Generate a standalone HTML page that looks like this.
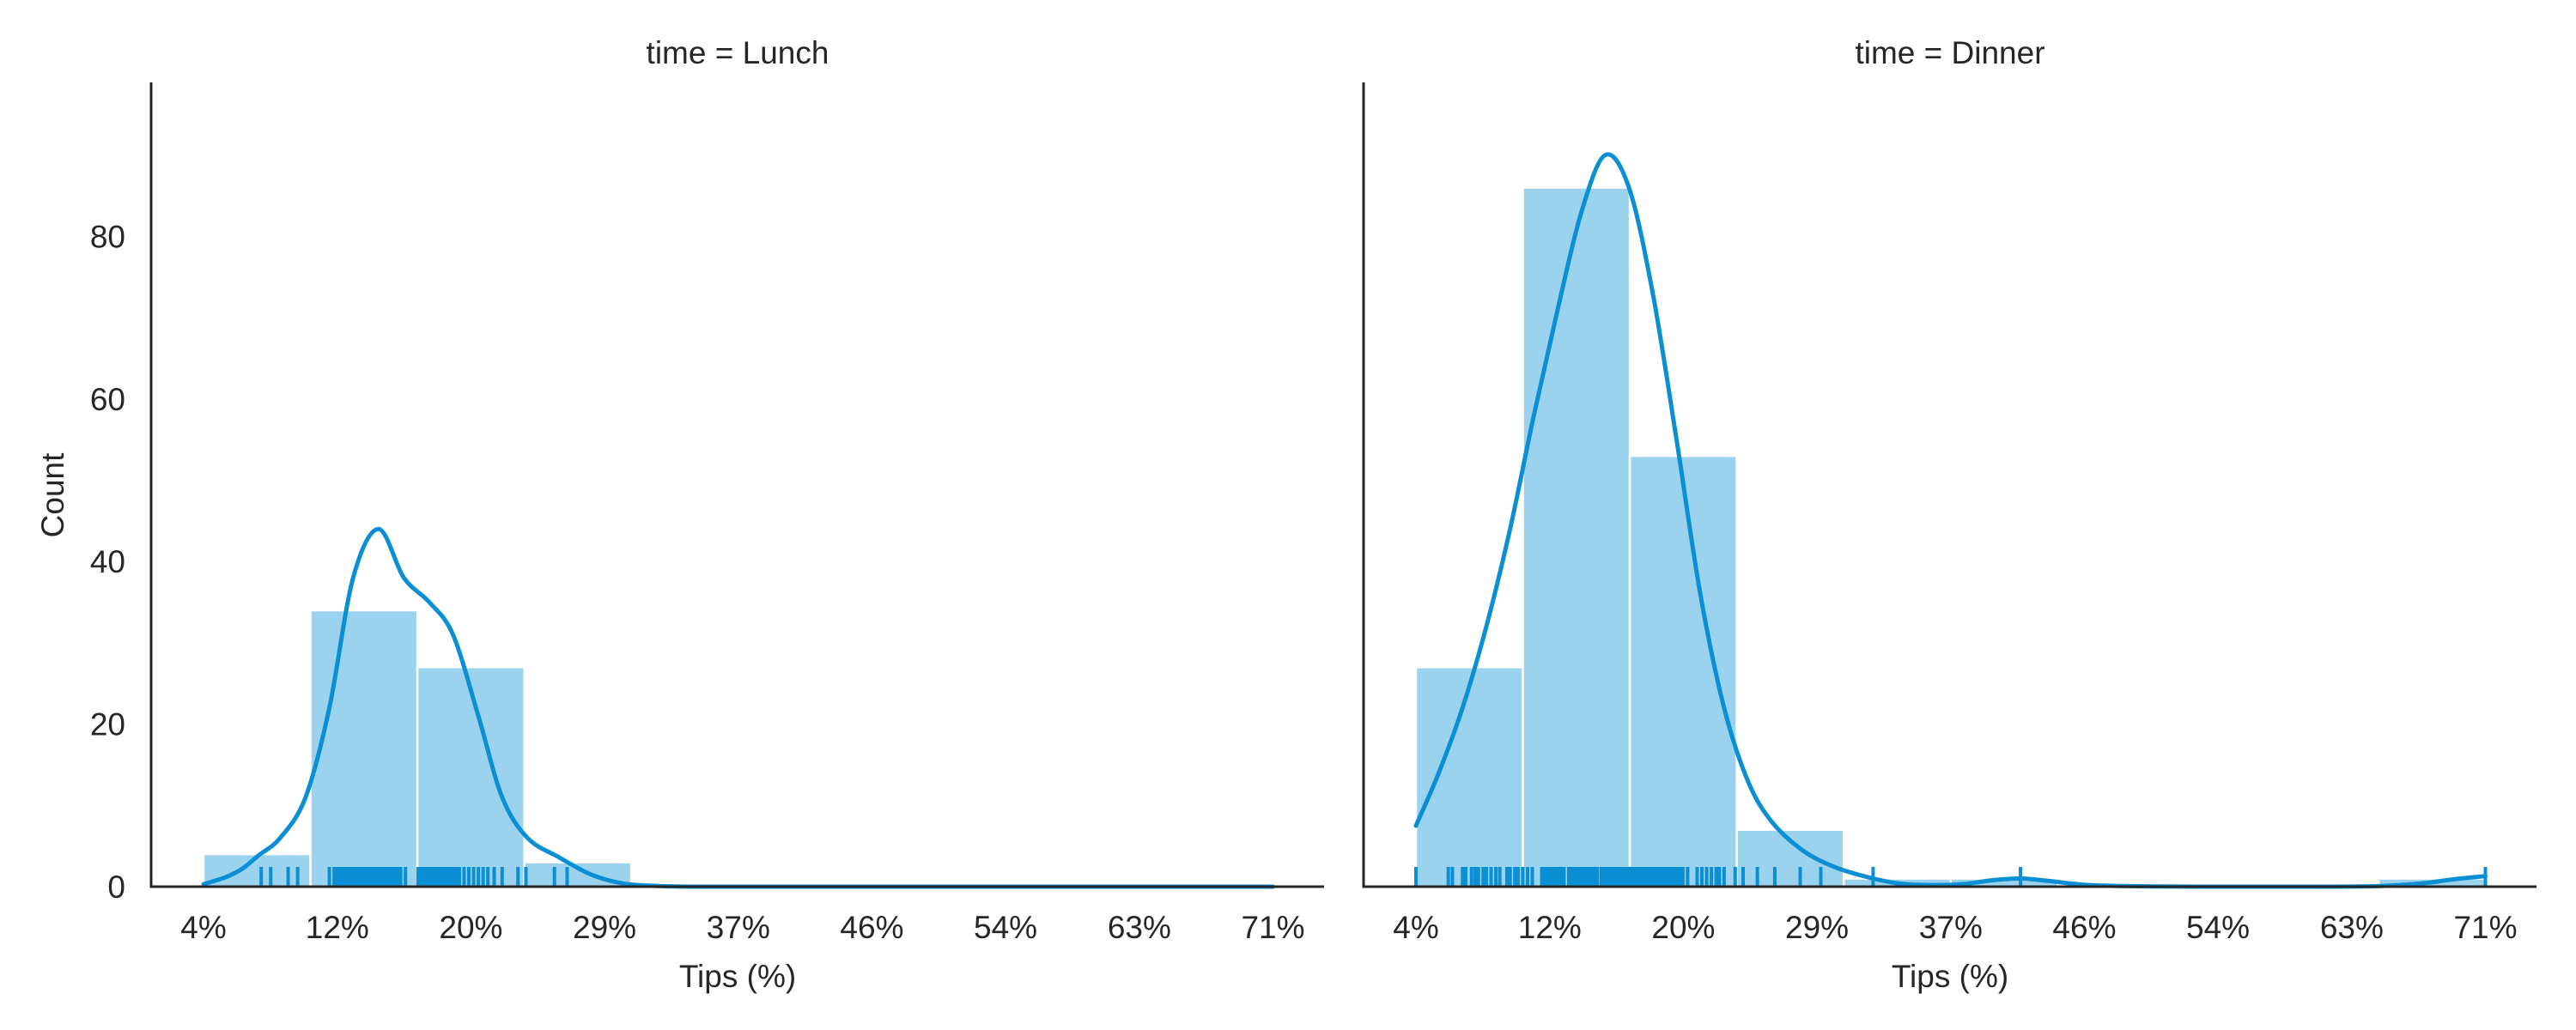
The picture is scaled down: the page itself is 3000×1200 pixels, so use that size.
<!DOCTYPE html>
<html><head><meta charset="utf-8"><style>
html,body{margin:0;padding:0;background:#fff;}
svg{display:block;font-family:"Liberation Sans",sans-serif;}
</style></head><body>
<svg id="chart" width="3000" height="1200" viewBox="0 0 3000 1200" xmlns="http://www.w3.org/2000/svg"></svg>
<script>
const panels = ["Lunch", "Dinner"];
const tickPcts = [3.56, 12.0, 20.43, 28.86, 37.3, 45.73, 54.16, 62.6, 71.03];
const tickLabels = ["4%", "12%", "20%", "29%", "37%", "46%", "54%", "63%", "71%"];
const yTicks = [0, 20, 40, 60, 80];
const binStart = 3.56;
const binWidth = 6.747;
const lunchCounts = [4, 34, 27, 3, 0, 0, 0, 0, 0, 0];
const dinnerCounts = [27, 86, 53, 7, 1, 1, 0, 0, 0, 1];
const lunchKdeX = [3.56, 5, 6, 7, 8.4, 10, 11.5, 13, 14.6, 16.2, 17.8, 19.3, 20.9, 22.4, 24, 26, 28, 30, 32, 35, 45, 60, 71.03];
const lunchKdeY = [0.3, 1.2, 2.2, 3.8, 6, 11, 22, 38, 44, 38, 35, 31, 21, 11, 6, 3.6, 1.5, 0.4, 0.1, 0, 0, 0, 0];
const dinnerKdeX = [3.56, 5, 6.5, 8, 9.5, 11, 12.5, 14, 15.5, 17, 18.5, 20, 21.5, 23, 24.5, 26, 28, 30, 32, 34, 36, 38, 40, 41.7, 43.5, 46, 50, 55, 60, 64, 67, 69, 71.03];
const dinnerKdeY = [7.5, 14, 22, 32, 44, 58, 71, 83, 90, 86, 73, 55, 36, 22, 13, 8, 4.4, 2.4, 1.2, 0.4, 0.2, 0.3, 0.8, 1.0, 0.7, 0.2, 0.03, 0, 0, 0.05, 0.4, 0.9, 1.3];
const lunchRug = [7.2, 7.8, 8.9, 9.5, 11.5, 11.8, 12.0, 12.2, 12.4, 12.6, 12.8, 13.0, 13.2, 13.3, 13.5, 13.7, 13.9, 14.0, 14.2, 14.4, 14.6, 14.8, 15.0, 15.2, 15.4, 15.6, 15.8, 16.0, 16.3, 17.1, 17.3, 17.5, 17.7, 17.9, 18.1, 18.3, 18.5, 18.7, 18.9, 19.1, 19.3, 19.5, 19.7, 20.0, 20.3, 20.6, 20.9, 21.2, 21.5, 21.9, 22.4, 23.4, 23.9, 25.7, 26.5];
const dinnerRug = [3.56, 5.6, 5.86, 6.5, 6.7, 7.07, 7.3, 7.5, 7.8, 8.0, 8.3, 8.6, 8.85, 9.3, 9.5, 9.8, 10.0, 10.3, 10.6, 10.9, 11.5, 11.7, 11.9, 12.1, 12.3, 12.5, 12.7, 12.9, 13.2, 13.4, 13.6, 13.8, 14.0, 14.2, 14.4, 14.6, 14.8, 15.0, 15.25, 15.4, 15.6, 15.8, 16.0, 16.2, 16.4, 16.6, 16.8, 17.0, 17.2, 17.4, 17.6, 17.8, 18.0, 18.2, 18.4, 18.6, 18.8, 19.0, 19.2, 19.4, 19.6, 19.8, 20.0, 20.2, 20.4, 20.7, 21.3, 21.6, 21.9, 22.2, 22.5, 22.7, 23.0, 23.7, 24.2, 25.1, 26.2, 27.8, 29.1, 32.4, 41.7, 71.03];

const NS = "http://www.w3.org/2000/svg";
const svg = document.getElementById("chart");
const offsets = [0, 1412];
const countsAll = [lunchCounts, dinnerCounts];
const kdeXAll = [lunchKdeX, dinnerKdeX];
const kdeYAll = [lunchKdeY, dinnerKdeY];
const rugAll = [lunchRug, dinnerRug];
const Y0 = 1033, YPX = 9.47;
function xScale(p, off) { return 237 + (p - 3.56) * 18.46 + off; }
function yScale(v) { return Y0 - v * YPX; }
function mk(tag, attrs, parent) {
  const e = document.createElementNS(NS, tag);
  for (const k in attrs) e.setAttribute(k, attrs[k]);
  (parent || svg).appendChild(e);
  return e;
}
panels.forEach((name, pi) => {
  const off = offsets[pi];
  const g = mk("g", {});
  
  
  countsAll[pi].forEach((c, i) => {
    if (c <= 0) return;
    const x0 = xScale(binStart + i * binWidth, off), x1 = xScale(binStart + (i + 1) * binWidth, off);
    const r = mk("rect", {x: x0, y: yScale(c), width: x1 - x0, height: Y0 - yScale(c), fill: "#9bd3ee", stroke: "#fff", "stroke-width": 2.5}, g);
    
    
  });
  rugAll[pi].forEach((p, i) => {
    const x = xScale(p, off);
    const l = mk("line", {x1: x, x2: x, y1: Y0, y2: Y0 - 23, stroke: "#0a8fd4", "stroke-width": 4}, g);
    
    
  });
  const xs = kdeXAll[pi], ys = kdeYAll[pi];
  const pts = xs.map((p, i) => [xScale(p, off), yScale(ys[i])]);
  let d = "M" + pts[0][0] + "," + pts[0][1];
  for (let i = 0; i < pts.length - 1; i++) {
    const p0 = pts[i - 1] || pts[i], p1 = pts[i], p2 = pts[i + 1], p3 = pts[i + 2] || p2;
    const c1x = p1[0] + (p2[0] - p0[0]) / 6, c1y = p1[1] + (p2[1] - p0[1]) / 6;
    const c2x = p2[0] - (p3[0] - p1[0]) / 6, c2y = p2[1] - (p3[1] - p1[1]) / 6;
    d += " C" + c1x + "," + Math.min(c1y, Y0) + " " + c2x + "," + Math.min(c2y, Y0) + " " + p2[0] + "," + p2[1];
  }
  const kp = mk("path", {d: d, fill: "none", stroke: "#0a8fd4", "stroke-width": 5, "stroke-linecap": "round"}, g);
  
  
  const sp1 = mk("line", {x1: 176 + off, x2: 176 + off, y1: 96, y2: Y0 + 1.5, stroke: "#262626", "stroke-width": 3}, g);
  
  
  const sp2 = mk("line", {x1: 174.5 + off, x2: 1542 + off, y1: Y0, y2: Y0, stroke: "#262626", "stroke-width": 3}, g);
  
  
  tickPcts.forEach((p, i) => {
    const t = mk("text", {x: xScale(p, off), y: 1093, "text-anchor": "middle", "font-size": 37, fill: "#262626"}, g);
    t.textContent = tickLabels[i];
    
    
  });
  const xl = mk("text", {x: 859 + off, y: 1150, "text-anchor": "middle", "font-size": 37, fill: "#262626"}, g);
  xl.textContent = "Tips (%)";
  
  
  const tt = mk("text", {x: 859 + off, y: 74, "text-anchor": "middle", "font-size": 37, fill: "#262626"}, g);
  tt.textContent = "time = " + name;
  
  
});
yTicks.forEach(v => {
  const t = mk("text", {x: 146, y: yScale(v) + 13, "text-anchor": "end", "font-size": 37, fill: "#262626"});
  t.textContent = String(v);
  
  
});
const yl = mk("text", {x: 0, y: 0, "text-anchor": "middle", "font-size": 37, fill: "#262626", transform: "translate(74,577) rotate(-90)"});
yl.textContent = "Count";


</script>
</body></html>
